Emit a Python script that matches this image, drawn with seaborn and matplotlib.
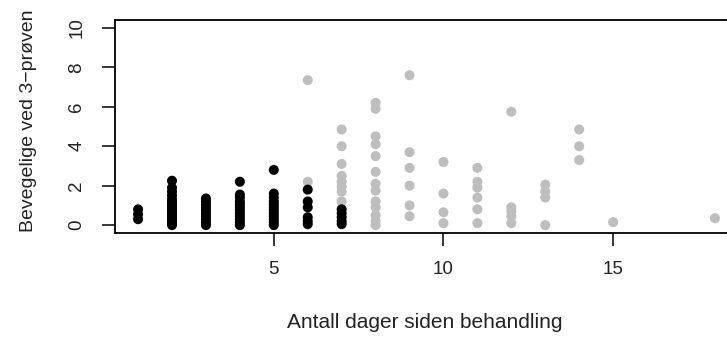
import seaborn as sns
import matplotlib
matplotlib.use("Agg")
import matplotlib.pyplot as plt
import pandas as pd

# ---- data ----
black_x = [1]*3 + [2]*18 + [3]*10 + [4]*12 + [5]*12 + [6]*6 + [7]*5
black_y = [0.3, 0.55, 0.8,
           0.0, 0.1, 0.2, 0.3, 0.4, 0.5, 0.6, 0.7, 0.8, 0.9, 1.0, 1.1, 1.2, 1.3, 1.5, 1.7, 1.9, 2.25,
           0.0, 0.15, 0.3, 0.45, 0.6, 0.75, 0.9, 1.05, 1.2, 1.35,
           0.0, 0.15, 0.3, 0.45, 0.6, 0.75, 0.9, 1.05, 1.2, 1.4, 1.55, 2.2,
           0.0, 0.15, 0.3, 0.45, 0.6, 0.75, 0.9, 1.05, 1.2, 1.4, 1.6, 2.8,
           0.05, 0.2, 0.4, 0.9, 1.2, 1.8,
           0.05, 0.2, 0.4, 0.6, 0.8]

gray_x = [6]*2 + [7]*8 + [8]*13 + [9]*6 + [10]*4 + [11]*6 + [12]*5 + [13]*4 + [14]*3 + [15] + [18]
gray_y = [2.2, 7.35,
          1.2, 1.7, 1.95, 2.2, 2.5, 3.1, 4.0, 4.85,
          0.0, 0.2, 0.5, 0.9, 1.2, 1.75, 2.1, 2.7, 3.5, 4.1, 4.5, 5.9, 6.2,
          0.45, 1.0, 2.0, 2.9, 3.7, 7.6,
          0.1, 0.65, 1.6, 3.2,
          0.1, 0.8, 1.4, 1.9, 2.2, 2.9,
          0.1, 0.45, 0.7, 0.9, 5.75,
          0.0, 1.4, 1.7, 2.05,
          3.3, 4.0, 4.85,
          0.15,
          0.35]

x_ticks = [5, 10, 15]
y_ticks = [0, 2, 4, 6, 8, 10]
x_label = "Antall dager siden behandling"
y_label = "Bevegelige ved 3\u2212prøven"

df = pd.DataFrame({
    "dager": gray_x + black_x,
    "bevegelige": gray_y + black_y,
    "gruppe": ["sen"] * len(gray_x) + ["tidlig"] * len(black_x),
})

sns.set_theme(style="white")
plt.rcParams['font.family'] = ['Liberation Sans', 'DejaVu Sans']

W, H = 727, 337
fig = plt.figure(figsize=(W / 100, H / 100), dpi=100)
left, right, top, bottom = 115, 738, 20, 233
ax = fig.add_axes([left / W, (H - bottom) / H, (right - left) / W, (bottom - top) / H])

sns.scatterplot(data=df, x="dager", y="bevegelige", hue="gruppe",
                palette={"sen": "#bebebe", "tidlig": "#000000"},
                s=52, linewidth=0, legend=False, ax=ax)

ax.set_xlim(0.32, 18.68)
ax.set_ylim(-0.4, 10.4)
ax.set_xticks(x_ticks)
ax.set_yticks(y_ticks)
ax.set_xticklabels([str(v) for v in x_ticks])
ax.set_yticklabels([str(v) for v in y_ticks], rotation=90, va="center")
ax.set_xlabel("")
ax.set_ylabel("")
for sp in ax.spines.values():
    sp.set_visible(True)
    sp.set_color("black")
    sp.set_linewidth(1.3)
ax.tick_params(axis="both", direction="out", length=9.5, width=1.1, color="black",
               labelsize=13.5, labelcolor="#222222")
ax.tick_params(axis="x", pad=11, bottom=True)
ax.tick_params(axis="y", pad=12, left=True)
ax.grid(False)

fig.text(425 / W, 9 / H, x_label, ha="center", va="baseline", fontsize=15, color="#222222")
fig.text(29 / W, (H - 121) / H, y_label, ha="center", va="center", rotation=90,
         fontsize=14, color="#222222")

fig.savefig("out.png", dpi=100, facecolor="white")
